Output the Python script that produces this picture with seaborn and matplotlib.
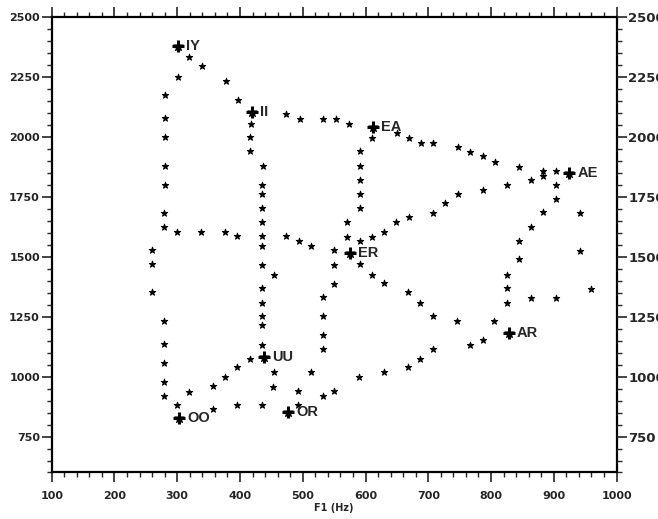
import matplotlib
matplotlib.use("Agg")
import matplotlib.pyplot as plt
from matplotlib.ticker import MultipleLocator
import pandas as pd
import seaborn as sns

# Vowel targets (F1, F2 in Hz)
vowels = ["IY", "II", "EA", "AE", "ER", "UU", "AR", "OO", "OR"]
vowel_f1 = [301, 419, 612, 925, 575, 438, 828, 303, 476]
vowel_f2 = [2378, 2103, 2040, 1849, 1514, 1083, 1181, 828, 851]

# Transition samples between targets
iy_ii_f1 = [319, 339, 378, 397]
iy_ii_f2 = [2330, 2293, 2232, 2154]

iy_er_f1 = [301, 281, 281, 281, 281, 281, 279, 279, 300, 338, 376, 396, 435, 474, 494, 513, 550]
iy_er_f2 = [2249, 2172, 2077, 1998, 1879, 1800, 1683, 1625, 1603, 1603, 1603, 1584, 1584, 1584, 1565, 1545, 1528]

ii_ea_f1 = [474, 495, 533, 553, 573]
ii_ea_f2 = [2096, 2073, 2075, 2074, 2053]

ii_uu_f1 = [417, 416, 416, 436, 435, 435, 435, 435, 435, 435, 454, 435, 435, 435, 435, 435]
ii_uu_f2 = [2054, 1998, 1940, 1877, 1799, 1760, 1704, 1645, 1545, 1466, 1425, 1368, 1308, 1252, 1213, 1133]

ea_ae_f1 = [650, 669, 689, 708, 747, 767, 787, 806, 845, 883, 903]
ea_ae_f2 = [2014, 1995, 1973, 1973, 1955, 1936, 1918, 1895, 1875, 1855, 1857]

ea_er_f1 = [611, 591, 591, 591, 591, 591, 571, 571]
ea_er_f2 = [1995, 1938, 1878, 1818, 1760, 1704, 1645, 1583]

er_ae_f1 = [591, 610, 630, 649, 669, 708, 727, 747, 787, 825, 864, 883]
er_ae_f2 = [1565, 1583, 1604, 1645, 1663, 1681, 1722, 1760, 1779, 1797, 1820, 1836]

ae_ar_f1 = [903, 903, 883, 864, 845, 845, 825, 825, 825]
ae_ar_f2 = [1797, 1740, 1684, 1624, 1565, 1488, 1424, 1368, 1306]

ae_ar2_f1 = [942, 942, 960, 903, 863]
ae_ar2_f2 = [1681, 1525, 1366, 1328, 1327]

er_ar_f1 = [591, 610, 630, 667, 687, 707, 745, 804]
er_ar_f2 = [1467, 1425, 1389, 1353, 1307, 1252, 1232, 1232]

oo_ar_f1 = [357, 395, 435, 493, 532, 550, 590, 630, 668, 687, 707, 767, 787]
oo_ar_f2 = [865, 882, 882, 882, 920, 940, 997, 1017, 1039, 1074, 1113, 1132, 1153]

oo_uu_f1 = [299, 318, 357, 376, 395, 416]
oo_uu_f2 = [881, 937, 960, 997, 1040, 1075]

iy_oo_f1 = [260, 260, 259, 279, 279, 279, 279, 279]
iy_oo_f2 = [1529, 1469, 1351, 1232, 1135, 1058, 979, 920]

er_or_f1 = [550, 550, 532, 532, 532, 532, 513, 493]
er_or_f2 = [1465, 1386, 1330, 1252, 1175, 1114, 1017, 938]

uu_or_f1 = [454, 453]
uu_or_f2 = [1017, 958]

paths = {
    "IY-II": (iy_ii_f1, iy_ii_f2), "IY-ER": (iy_er_f1, iy_er_f2),
    "II-EA": (ii_ea_f1, ii_ea_f2), "II-UU": (ii_uu_f1, ii_uu_f2),
    "EA-AE": (ea_ae_f1, ea_ae_f2), "EA-ER": (ea_er_f1, ea_er_f2),
    "ER-AE": (er_ae_f1, er_ae_f2), "AE-AR": (ae_ar_f1, ae_ar_f2),
    "AE-AR2": (ae_ar2_f1, ae_ar2_f2), "ER-AR": (er_ar_f1, er_ar_f2),
    "OO-AR": (oo_ar_f1, oo_ar_f2), "OO-UU": (oo_uu_f1, oo_uu_f2),
    "IY-OO": (iy_oo_f1, iy_oo_f2), "ER-OR": (er_or_f1, er_or_f2),
    "UU-OR": (uu_or_f1, uu_or_f2),
}
rows = []
for name, (f1s, f2s) in paths.items():
    for a, b in zip(f1s, f2s):
        rows.append({"path": name, "F1": a, "F2": b})
samples = pd.DataFrame(rows)
targets = pd.DataFrame({"vowel": vowels, "F1": vowel_f1, "F2": vowel_f2})

sns.set_style("ticks")
plt.rcParams["font.family"] = ["DejaVu Sans"]

fig, ax = plt.subplots(figsize=(6.58, 5.19), dpi=100)
fig.subplots_adjust(left=0.0786, right=0.937, bottom=0.0896, top=0.968)

sns.scatterplot(data=samples, x="F1", y="F2", marker="*", s=24, color="black",
                edgecolor="black", linewidth=0.7, legend=False, ax=ax)
sns.scatterplot(data=targets, x="F1", y="F2", marker="*", s=50, color="black",
                edgecolor="black", linewidth=0.8, legend=False, ax=ax)
sns.scatterplot(data=targets, x="F1", y="F2", marker="+", s=65, color="black",
                linewidth=2.2, legend=False, ax=ax)

for name, a, b in zip(vowels, vowel_f1, vowel_f2):
    ax.annotate(name, (a, b), xytext=(6, 0), textcoords="offset points",
                ha="left", va="center", fontsize=10.5, fontweight="bold",
                family=["Liberation Sans", "DejaVu Sans"])

ax.set_xlim(100, 1000)
ax.set_ylim(600, 2500)
ax.xaxis.set_major_locator(MultipleLocator(100))
ax.xaxis.set_minor_locator(MultipleLocator(20))
ax.yaxis.set_major_locator(MultipleLocator(250))
ax.yaxis.set_minor_locator(MultipleLocator(50))
ax.tick_params(which="both", direction="out", top=True, right=True,
               labelsize=8, width=1.2)
ax.tick_params(which="major", length=7)
ax.tick_params(which="minor", length=3.5, width=1)
ax.tick_params(axis="x", pad=6)
ax.tick_params(axis="y", pad=1.5)
for lab in ax.get_xticklabels() + ax.get_yticklabels():
    lab.set_fontweight("bold")
for sp in ax.spines.values():
    sp.set_linewidth(1.6)
    sp.set_color("black")

# right-hand duplicate scale (its labels run off the page edge, as in the original)
ax2 = ax.twinx()
ax2.set_ylim(600, 2500)
ax2.yaxis.set_major_locator(MultipleLocator(250))
ax2.yaxis.set_minor_locator(MultipleLocator(50))
ax2.tick_params(which="both", direction="out", labelsize=9.5, width=1.2, pad=1.5)
ax2.tick_params(which="major", length=7)
ax2.tick_params(which="minor", length=3.5, width=1)
for lab in ax2.get_yticklabels():
    lab.set_fontweight("bold")
for sp in ax2.spines.values():
    sp.set_visible(False)

ax.set_xlabel("F1 (Hz)", fontsize=7, fontweight="bold", labelpad=2)
ax.set_ylabel("")

fig.savefig("out.png", dpi=100)
